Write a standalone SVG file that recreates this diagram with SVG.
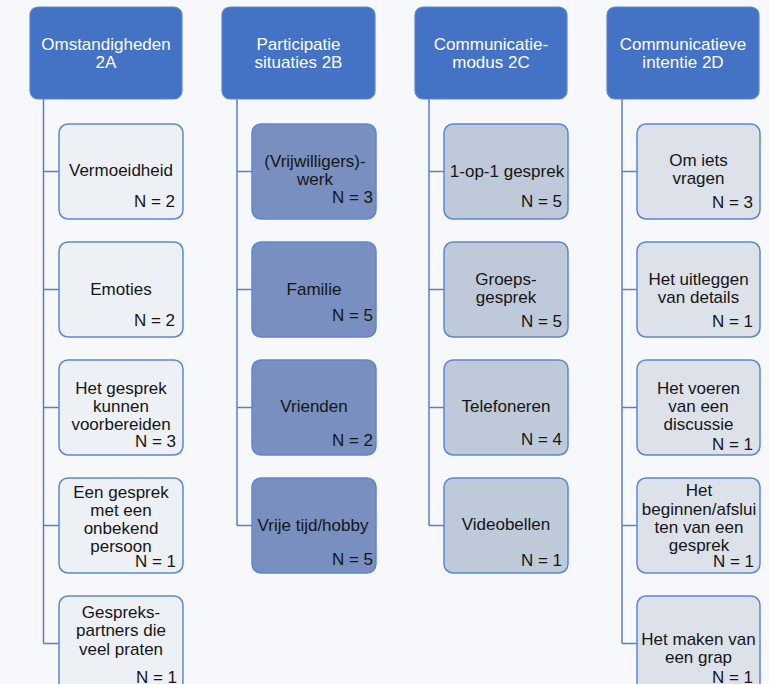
<svg xmlns="http://www.w3.org/2000/svg" width="769" height="684" viewBox="0 0 769 684">
<style>
text{font-family:"Liberation Sans",Arial,Helvetica,sans-serif;font-size:17px;fill:#161616}
.h rect{fill:#4472C4;stroke:#5E86CC;stroke-width:1.2}
.h text{fill:#ffffff;text-anchor:middle}
.c rect{stroke:#5C86D0;stroke-width:1.5}
.m{text-anchor:middle}
.n{text-anchor:end}
.a rect{fill:#EDF0F5}
.b rect{fill:#788FBF}
.cc rect{fill:#BECAD9}
.d rect{fill:#DCE1EA}
#connectors path{fill:none;stroke:#5A7FC6;stroke-width:1.5}
</style>
<rect x="0" y="0" width="769" height="684" fill="#F7F8FC"/>
<g id="connectors">
<path d="M43.5 99V643.5M43.5 171.5H59M43.5 289.5H59M43.5 407.5H59M43.5 525.5H59M43.5 643.5H59"/>
<path d="M237 99V525.5M237 171.5H252M237 289.5H252M237 407.5H252M237 525.5H252"/>
<path d="M429 99V525.5M429 171.5H444M429 289.5H444M429 407.5H444M429 525.5H444"/>
<path d="M622 99V643.5M622 171.5H637M622 289.5H637M622 407.5H637M622 525.5H637M622 643.5H637"/>
</g>
<g id="h2A" class="h"><rect x="30" y="7" width="152" height="92" rx="8"/><text x="106" y="50">Omstandigheden</text><text x="106" y="68">2A</text></g>
<g id="h2B" class="h"><rect x="222" y="7" width="153" height="92" rx="8"/><text x="298.5" y="50">Participatie</text><text x="298.5" y="68">situaties 2B</text></g>
<g id="h2C" class="h"><rect x="415" y="7" width="152" height="92" rx="8"/><text x="491" y="50">Communicatie-</text><text x="491" y="68">modus 2C</text></g>
<g id="h2D" class="h"><rect x="607" y="7" width="152" height="92" rx="8"/><text x="683" y="50">Communicatieve</text><text x="683" y="68">intentie 2D</text></g>

<g id="a1" class="c a"><rect x="59" y="124" width="124" height="95" rx="9"/><text class="m" x="121" y="176">Vermoeidheid</text><text class="n" x="175" y="207">N = 2</text></g>
<g id="a2" class="c a"><rect x="59" y="242" width="124" height="95" rx="9"/><text class="m" x="121" y="295">Emoties</text><text class="n" x="175" y="326">N = 2</text></g>
<g id="a3" class="c a"><rect x="59" y="360" width="124" height="95" rx="9"/><text class="m" x="121" y="394">Het gesprek</text><text class="m" x="121" y="412">kunnen</text><text class="m" x="121" y="430">voorbereiden</text><text class="n" x="176" y="447">N = 3</text></g>
<g id="a4" class="c a"><rect x="59" y="478" width="124" height="95" rx="9"/><text class="m" x="121" y="498">Een gesprek</text><text class="m" x="121" y="516">met een</text><text class="m" x="121" y="534">onbekend</text><text class="m" x="121" y="552">persoon</text><text class="n" x="176" y="567">N = 1</text></g>
<g id="a5" class="c a"><rect x="59" y="596" width="124" height="95" rx="9"/><text class="m" x="121" y="618">Gespreks-</text><text class="m" x="121" y="636">partners die</text><text class="m" x="121" y="655">veel praten</text><text class="n" x="177" y="683">N = 1</text></g>

<g id="b1" class="c b"><rect x="252" y="124" width="124" height="95" rx="9"/><text class="m" x="315" y="167">(Vrijwilligers)-</text><text class="m" x="315" y="185">werk</text><text class="n" x="373" y="203">N = 3</text></g>
<g id="b2" class="c b"><rect x="252" y="242" width="124" height="95" rx="9"/><text class="m" x="314" y="295">Familie</text><text class="n" x="373" y="321">N = 5</text></g>
<g id="b3" class="c b"><rect x="252" y="360" width="124" height="95" rx="9"/><text class="m" x="314" y="412">Vrienden</text><text class="n" x="373" y="446">N = 2</text></g>
<g id="b4" class="c b"><rect x="252" y="478" width="124" height="95" rx="9"/><text class="m" x="313" y="531">Vrije tijd/hobby</text><text class="n" x="373" y="565">N = 5</text></g>

<g id="c1" class="c cc"><rect x="444" y="124" width="124" height="95" rx="9"/><text class="m" x="507" y="177">1-op-1 gesprek</text><text class="n" x="562" y="207">N = 5</text></g>
<g id="c2" class="c cc"><rect x="444" y="242" width="124" height="95" rx="9"/><text class="m" x="506" y="285">Groeps-</text><text class="m" x="506" y="303">gesprek</text><text class="n" x="562" y="327">N = 5</text></g>
<g id="c3" class="c cc"><rect x="444" y="360" width="124" height="95" rx="9"/><text class="m" x="506" y="412">Telefoneren</text><text class="n" x="562" y="445">N = 4</text></g>
<g id="c4" class="c cc"><rect x="444" y="478" width="124" height="95" rx="9"/><text class="m" x="506" y="530">Videobellen</text><text class="n" x="562" y="566">N = 1</text></g>

<g id="d1" class="c d"><rect x="637" y="124" width="123" height="95" rx="9"/><text class="m" x="698.5" y="166">Om iets</text><text class="m" x="698.5" y="184">vragen</text><text class="n" x="753" y="208">N = 3</text></g>
<g id="d2" class="c d"><rect x="637" y="242" width="123" height="95" rx="9"/><text class="m" x="698.5" y="285">Het uitleggen</text><text class="m" x="698.5" y="303">van details</text><text class="n" x="753" y="327">N = 1</text></g>
<g id="d3" class="c d"><rect x="637" y="360" width="123" height="95" rx="9"/><text class="m" x="698.5" y="394">Het voeren</text><text class="m" x="698.5" y="412">van een</text><text class="m" x="698.5" y="430">discussie</text><text class="n" x="753" y="450">N = 1</text></g>
<g id="d4" class="c d"><rect x="637" y="478" width="123" height="95" rx="9"/><text class="m" x="699" y="496">Het</text><text class="m" x="699" y="515">beginnen/afslui</text><text class="m" x="699" y="533">ten van een</text><text class="m" x="699" y="551">gesprek</text><text class="n" x="754" y="567">N = 1</text></g>
<g id="d5" class="c d"><rect x="637" y="596" width="123" height="95" rx="9"/><text class="m" x="698.5" y="645">Het maken van</text><text class="m" x="698.5" y="663">een grap</text><text class="n" x="753" y="683">N = 1</text></g>
</svg>
